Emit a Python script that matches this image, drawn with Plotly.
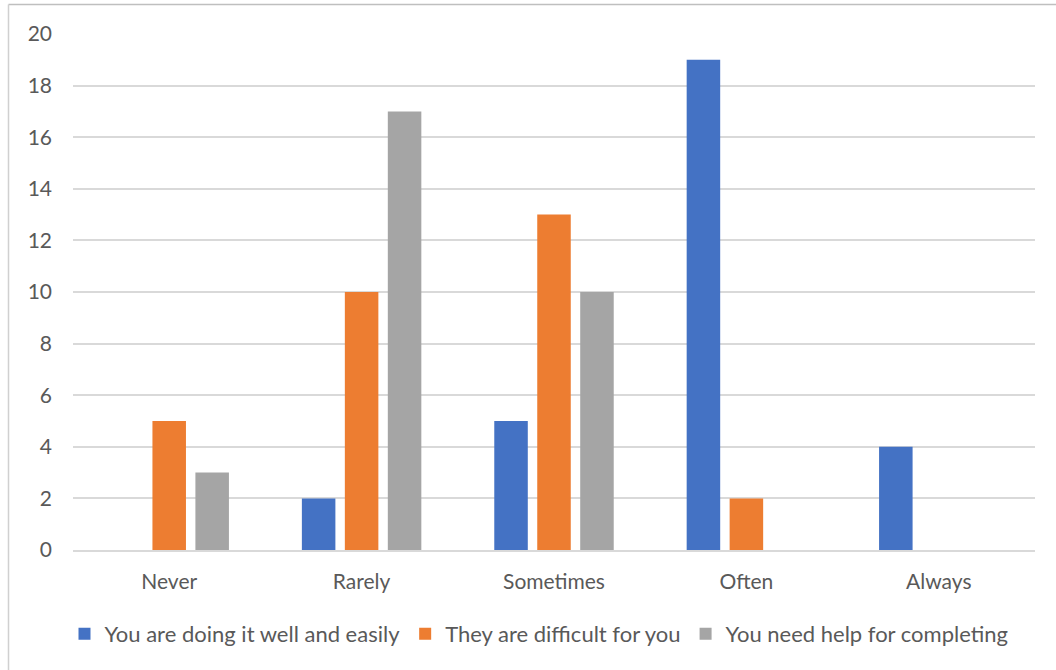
import plotly.graph_objects as go

categories = ["Never", "Rarely", "Sometimes", "Often", "Always"]
doing_well = [0, 2, 5, 19, 4]
difficult = [5, 10, 13, 2, 0]
need_help = [3, 17, 10, 0, 0]
y_ticks = [0, 2, 4, 6, 8, 10, 12, 14, 16, 18, 20]

series = [
    ("You are doing it well and easily", doing_well, "#4472C4"),
    ("They are difficult for you", difficult, "#ED7D31"),
    ("You need help for completing", need_help, "#A5A5A5"),
]

fig = go.Figure()
for name, vals, color in series:
    fig.add_trace(go.Bar(
        x=categories, y=vals, name=name,
        marker=dict(color=color, line=dict(width=0)),
    ))

W, H = 1056, 670
ml, mr, mt, mb = 73, 21, 34, 120
pw, ph = W - ml - mr, H - mt - mb

def px_x(p):
    return (p - ml) / pw

def px_y(p):
    return (H - mb - p) / ph

# chart frame: left and top edges only
fig.add_shape(type="line", xref="paper", yref="paper",
              x0=px_x(8.5), x1=px_x(1060), y0=px_y(4.5), y1=px_y(4.5),
              line=dict(color="#BFBFBF", width=1.5))
fig.add_shape(type="line", xref="paper", yref="paper",
              x0=px_x(8.5), x1=px_x(8.5), y0=px_y(4.5), y1=px_y(675),
              line=dict(color="#D0D0D0", width=1.5))

fig.update_layout(
    width=W, height=H,
    margin=dict(l=ml, r=mr, t=mt, b=mb),
    paper_bgcolor="white", plot_bgcolor="white",
    barmode="group", bargap=0.33, bargroupgap=0.22,
    font=dict(family="Lato, Open Sans, sans-serif", color="#595959", size=21),
    showlegend=True,
    legend=dict(orientation="h", x=px_x(539), xanchor="center", y=px_y(634), yanchor="middle",
                font=dict(size=22, color="#595959"), itemwidth=30,
                traceorder="normal"),
    xaxis=dict(showgrid=False, showline=True, linecolor="#D9D9D9", linewidth=1.5,
               ticks="", tickfont=dict(size=21), ticklabelstandoff=12, fixedrange=True),
    yaxis=dict(range=[0, 20], tickvals=y_ticks, showgrid=True, gridcolor="#D9D9D9",
               gridwidth=1.5, zeroline=False, showline=False, ticks="",
               ticklabelstandoff=20, tickfont=dict(size=21)),
)

fig.write_html("out.html")
